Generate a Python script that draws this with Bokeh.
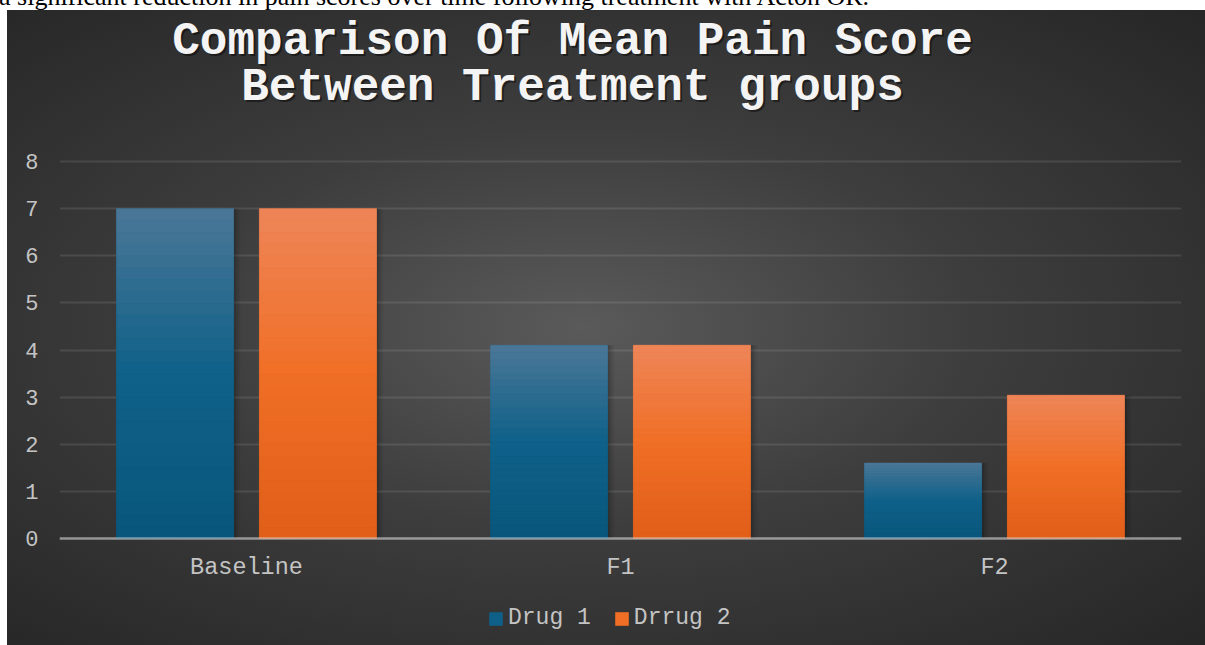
import numpy as np
from bokeh.plotting import figure
from bokeh.models import (ColumnDataSource, FactorRange, Range1d, FixedTicker,
                          Legend, LegendItem, Label, Span)
from bokeh.transform import dodge
from bokeh.embed import file_html
from bokeh.resources import INLINE

# ---------------- data ----------------
categories = ["Baseline", "F1", "F2"]
drug1 = [7.0, 4.1, 1.6]
drug2 = [7.0, 4.1, 3.04]
series_names = ["Drug 1", "Drrug 2"]
y_ticks = [0, 1, 2, 3, 4, 5, 6, 7, 8]
title_lines = ["Comparison Of Mean Pain Score", "Between Treatment groups"]
caption = "a significant reduction in pain scores over time following treatment with Acton OR."

# ---------------- style ----------------
FONT = "Liberation Mono"
TICK_COLOR = "#c4c4c4"
BLUE_STOPS = [(0.0, (9, 86, 124)), (0.5, (15, 97, 137)), (1.0, (75, 119, 151))]
ORANGE_STOPS = [(0.0, (224, 94, 25)), (0.5, (240, 111, 38)), (1.0, (238, 133, 88))]
BLUE_SOLID = "#0f6088"
ORANGE_SOLID = "#f06e26"
BAR_W = 0.313
OFFS = 0.191
NSEG = 28

W, H = 1205, 645
TOP_B, BOT_B = 10, 5
PX_PER_UNIT = 47.125          # vertical scale of the value axis
ZERO_PX, EIGHT_PX = 538, 161  # where 0 and 8 sit on the page
y_start = -((H - BOT_B) - ZERO_PX) / PX_PER_UNIT
y_end = 8 + (EIGHT_PX - TOP_B) / PX_PER_UNIT

p = figure(width=W, height=H, title=None,
           x_range=FactorRange(factors=categories, range_padding=0),
           y_range=Range1d(y_start, y_end),
           output_backend="svg", toolbar_location=None,
           min_border_left=59, min_border_right=24,
           min_border_top=TOP_B, min_border_bottom=BOT_B)
p.background_fill_alpha = 0
p.border_fill_alpha = 0
p.outline_line_color = None
p.styles = {"background": "radial-gradient(ellipse farthest-corner at 48% 50%, "
                          "#5a5a5a 0%, #3d3d3d 45%, #262626 100%) 7px 10px / 1198px 635px "
                          "no-repeat, #ffffff"}
p.stylesheets = [
    ':host::before { content: "%s"; position: absolute; left: -1px; top: -16px; '
    'font-family: "Liberation Serif"; font-size: 26px; line-height: 26px; '
    'color: #000000; white-space: nowrap; pointer-events: none; }' % caption
]


def grad_colors(stops, t):
    pos = np.array([s[0] for s in stops])
    cols = np.array([s[1] for s in stops], dtype=float)
    r = np.interp(t, pos, cols[:, 0])
    g = np.interp(t, pos, cols[:, 1])
    b = np.interp(t, pos, cols[:, 2])
    return ["#%02x%02x%02x" % (int(round(a)), int(round(bb)), int(round(c)))
            for a, bb, c in zip(r, g, b)]


def segments(values, stops):
    xs, bots, tops, cols = [], [], [], []
    t = (np.arange(NSEG) + 0.5) / NSEG
    colors = grad_colors(stops, t)
    for cat, v in zip(categories, values):
        for i in range(NSEG):
            xs.append(cat)
            bots.append(v * i / NSEG)
            tops.append(v * (i + 1) / NSEG)
            cols.append(colors[i])
    return ColumnDataSource(dict(x=xs, bottom=bots, top=tops, color=cols))


base1 = ColumnDataSource(dict(x=categories, top=drug1))
base2 = ColumnDataSource(dict(x=categories, top=drug2))

# soft shadows
for src, off in ((base1, -OFFS), (base2, OFFS)):
    for dx, a in ((0.006, 0.12), (0.012, 0.08), (0.018, 0.05)):
        p.vbar(x=dodge("x", off + dx, range=p.x_range), top="top", width=BAR_W,
               source=src, fill_color="black", fill_alpha=a, line_color=None)

r1 = p.vbar(x=dodge("x", -OFFS, range=p.x_range), top="top", width=BAR_W,
            source=base1, fill_color=BLUE_SOLID, line_color=None)
r2 = p.vbar(x=dodge("x", OFFS, range=p.x_range), top="top", width=BAR_W,
            source=base2, fill_color=ORANGE_SOLID, line_color=None)

p.vbar(x=dodge("x", -OFFS, range=p.x_range), bottom="bottom", top="top", width=BAR_W,
       source=segments(drug1, BLUE_STOPS), fill_color="color", line_color="color",
       line_width=0.6)
p.vbar(x=dodge("x", OFFS, range=p.x_range), bottom="bottom", top="top", width=BAR_W,
       source=segments(drug2, ORANGE_STOPS), fill_color="color", line_color="color",
       line_width=0.6)

# zero baseline (category axis line)
p.add_layout(Span(location=0, dimension="width", line_color="#d9d9d9",
                  line_alpha=0.55, line_width=2.5))

# ---------------- axes ----------------
p.yaxis.ticker = FixedTicker(ticks=y_ticks)
p.yaxis.axis_line_color = None
p.yaxis.major_tick_line_color = None
p.yaxis.minor_tick_line_color = None
p.yaxis.major_label_standoff = 15
p.yaxis.major_label_text_font = FONT
p.yaxis.major_label_text_font_size = "22px"
p.yaxis.major_label_text_color = TICK_COLOR

p.xaxis.axis_line_color = None
p.xaxis.major_tick_line_color = None
p.xaxis.minor_tick_line_color = None
p.xaxis.major_tick_out = 0
p.xaxis.major_tick_in = 0
p.xaxis.major_label_standoff = -87
p.xaxis.major_label_text_font = FONT
p.xaxis.major_label_text_font_size = "23.5px"
p.xaxis.major_label_text_color = TICK_COLOR

p.xgrid.grid_line_color = None
p.ygrid.grid_line_color = "white"
p.ygrid.grid_line_alpha = 0.1
p.ygrid.grid_line_width = 2

# ---------------- title ----------------
title_y = [8 + (EIGHT_PX - 41) / PX_PER_UNIT, 8 + (EIGHT_PX - 87) / PX_PER_UNIT]
title_x = (572 - 59) / 374.0
for txt, ty in zip(title_lines, title_y):
    p.add_layout(Label(x=title_x, y=ty, text=txt, text_align="center",
                       text_baseline="middle", text_font=FONT, text_font_style="bold",
                       text_font_size="46px", text_color="black", text_alpha=0.45,
                       x_offset=2, y_offset=-2))
    p.add_layout(Label(x=title_x, y=ty, text=txt, text_align="center",
                       text_baseline="middle", text_font=FONT, text_font_style="bold",
                       text_font_size="46px", text_color="#f4f4f4"))

# ---------------- legend ----------------
legend = Legend(items=[LegendItem(label=series_names[0], renderers=[r1]),
                       LegendItem(label=series_names[1], renderers=[r2])],
                location=(428, 9), orientation="horizontal",
                background_fill_alpha=0, border_line_color=None,
                label_text_font=FONT, label_text_font_size="23px",
                label_text_color=TICK_COLOR, glyph_width=17, glyph_height=17,
                label_standoff=4, spacing=22, padding=0, margin=0)
p.add_layout(legend)

open("out.html", "w").write(file_html(p, INLINE))
